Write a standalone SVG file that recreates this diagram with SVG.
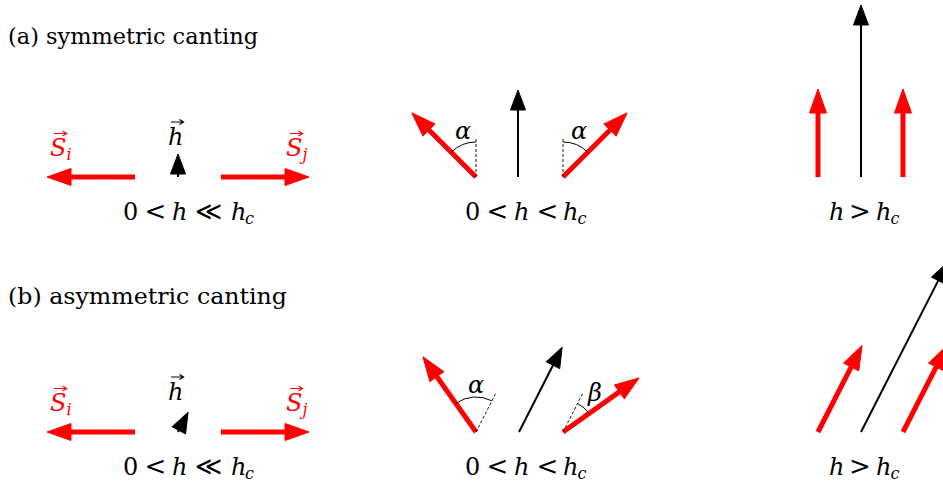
<svg xmlns="http://www.w3.org/2000/svg" width="943" height="486" viewBox="0 0 943 486">
<defs>
<style>
text{font-family:'DejaVu Serif','Liberation Serif',serif}
.t{font-size:22px;fill:#000}
.m{font-size:24px;font-style:italic;fill:#000}
.r{font-style:normal}
.rel{font-style:normal;font-size:26px}
.sub{font-size:16px}
.red{fill:#ff0000}
.sp{stroke:#ff0000;stroke-width:5;fill:none}
.fp{stroke:#000;stroke-width:2;fill:none}
.dash{stroke:#000;stroke-width:0.9;stroke-dasharray:3,2;fill:none}
.arc{stroke:#000;stroke-width:1;fill:none}
.vk{stroke:#000;stroke-width:1.2;fill:none}
.vr{stroke:#ff0000;stroke-width:1.2;fill:none}
</style>
<marker id="hr" viewBox="0 -10 30 20" markerWidth="30" markerHeight="20" refX="6" refY="0" orient="auto" markerUnits="userSpaceOnUse" overflow="visible">
<path d="M0,-8.5 L24,0 L0,8.5 Z" fill="#ff0000" stroke="#ff0000" stroke-width="1" stroke-linejoin="round"/>
</marker>
<marker id="hb" viewBox="0 -10 30 20" markerWidth="30" markerHeight="20" refX="5" refY="0" orient="auto" markerUnits="userSpaceOnUse" overflow="visible">
<path d="M0,-7.5 L20,0 L0,7.5 Z" fill="#000" stroke="#000" stroke-width="1" stroke-linejoin="round"/>
</marker>
</defs>
<rect width="943" height="486" fill="#fff"/>

<g id="titles">
<text class="t" x="8" y="44" textLength="250" lengthAdjust="spacingAndGlyphs">(a) symmetric canting</text>
<text class="t" x="8" y="304" textLength="279" lengthAdjust="spacingAndGlyphs">(b) asymmetric canting</text>
</g>

<g id="connectors">
<path class="sp" d="M135,177 L65,177" marker-end="url(#hr)"/>
<path class="sp" d="M221,177 L291,177" marker-end="url(#hr)"/>
<path class="fp" d="M178,177 L178,169" marker-end="url(#hb)"/>
<path class="sp" d="M476,177 L424.7,125.7" marker-end="url(#hr)"/>
<path class="fp" d="M518,177 L518,105" marker-end="url(#hb)"/>
<path class="sp" d="M563,177 L614.3,125.7" marker-end="url(#hr)"/>
<path class="sp" d="M818,177 L818,107" marker-end="url(#hr)"/>
<path class="fp" d="M861,177 L861,20" marker-end="url(#hb)"/>
<path class="sp" d="M903,177 L903,107" marker-end="url(#hr)"/>
<path class="sp" d="M135,432 L65,432" marker-end="url(#hr)"/>
<path class="sp" d="M221,432 L291,432" marker-end="url(#hr)"/>
<path class="fp" d="M178,432 L181.2,425.8" marker-end="url(#hb)"/>
<path class="sp" d="M476,432 L433.4,371.7" marker-end="url(#hr)"/>
<path class="fp" d="M519,432 L555.3,360.7" marker-end="url(#hb)"/>
<path class="sp" d="M563,432 L624.3,388.4" marker-end="url(#hr)"/>
<path class="sp" d="M818,432 L853.9,361.6" marker-end="url(#hr)"/>
<path class="fp" d="M861,432 L940.5,276.1" marker-end="url(#hb)"/>
<path class="sp" d="M903,432 L938.9,361.6" marker-end="url(#hr)"/>
</g>

<g id="angles">
<path class="dash" d="M476,177 V137"/>
<path class="dash" d="M563,177 V137"/>
<path class="arc" d="M451.25,152.25 A35,35 0 0 1 476,142"/>
<path class="arc" d="M563,142 A35,35 0 0 1 587.75,152.25"/>
<text class="m" x="463" y="139" text-anchor="middle">α</text>
<text class="m" x="579" y="139" text-anchor="middle">α</text>
<path class="dash" d="M476,432 L496,392.8"/>
<path class="dash" d="M563,432 L583,392.8"/>
<path class="arc" d="M455.8,403.4 A35,35 0 0 1 491.9,400.8"/>
<path class="arc" d="M577.5,403.5 A32,32 0 0 1 589.1,413.5"/>
<text class="m" x="476" y="393" text-anchor="middle">α</text>
<text class="m" x="595" y="401" text-anchor="middle">β</text>
</g>

<g id="vec-accents">
<path class="vr" d="M54,133.5 H66 M62.5,131 L66.5,133.5 L62.5,136"/>
<path class="vk" d="M171,122 H183 M179.5,119.5 L183.5,122 L179.5,124.5"/>
<path class="vr" d="M290,133.5 H302 M298.5,131 L302.5,133.5 L298.5,136"/>
<path class="vr" d="M54,388.5 H66 M62.5,386 L66.5,388.5 L62.5,391"/>
<path class="vk" d="M171,377 H183 M179.5,374.5 L183.5,377 L179.5,379.5"/>
<path class="vr" d="M290,388.5 H302 M298.5,386 L302.5,388.5 L298.5,391"/>
</g>

<g id="node-a1">
<text class="m red" x="50" y="156">S<tspan class="sub" x="66.5" y="160">i</tspan></text>
<text class="m" x="168" y="145">h</text>
<text class="m red" x="286" y="156">S<tspan class="sub" x="302.5" y="160">j</tspan></text>
<text class="m" y="220"><tspan class="r" x="123">0</tspan><tspan class="rel" x="144.6">&lt;</tspan><tspan x="172">h</tspan><tspan class="rel" x="195">≪</tspan><tspan x="231">h</tspan><tspan class="sub" x="245" y="224">c</tspan></text>
</g>

<g id="node-a2">
<text class="m" y="220"><tspan class="r" x="465">0</tspan><tspan class="rel" x="486.6">&lt;</tspan><tspan x="514">h</tspan><tspan class="rel" x="536.6">&lt;</tspan><tspan x="563">h</tspan><tspan class="sub" x="577.5" y="224">c</tspan></text>
</g>

<g id="node-a3">
<text class="m" y="220"><tspan x="829">h</tspan><tspan class="rel" x="849">&gt;</tspan><tspan x="876">h</tspan><tspan class="sub" x="890.5" y="224">c</tspan></text>
</g>

<g id="node-b1">
<text class="m red" x="50" y="411">S<tspan class="sub" x="66.5" y="415">i</tspan></text>
<text class="m" x="168" y="400">h</text>
<text class="m red" x="286" y="411">S<tspan class="sub" x="302.5" y="415">j</tspan></text>
<text class="m" y="475"><tspan class="r" x="123">0</tspan><tspan class="rel" x="144.6">&lt;</tspan><tspan x="172">h</tspan><tspan class="rel" x="195">≪</tspan><tspan x="231">h</tspan><tspan class="sub" x="245" y="479">c</tspan></text>
</g>

<g id="node-b2">
<text class="m" y="475"><tspan class="r" x="465">0</tspan><tspan class="rel" x="486.6">&lt;</tspan><tspan x="514">h</tspan><tspan class="rel" x="536.6">&lt;</tspan><tspan x="563">h</tspan><tspan class="sub" x="577.5" y="479">c</tspan></text>
</g>

<g id="node-b3">
<text class="m" y="475"><tspan x="829">h</tspan><tspan class="rel" x="849">&gt;</tspan><tspan x="876">h</tspan><tspan class="sub" x="890.5" y="479">c</tspan></text>
</g>
</svg>
